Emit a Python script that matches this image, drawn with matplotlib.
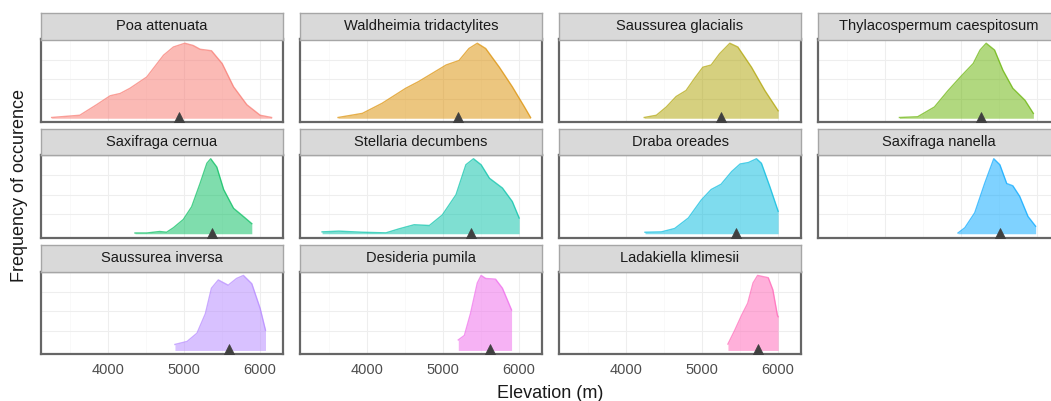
import matplotlib
matplotlib.use("Agg")
import matplotlib.pyplot as plt

plt.rcParams['font.family'] = ['Liberation Sans', 'DejaVu Sans']

species = ["Poa attenuata", "Waldheimia tridactylites", "Saussurea glacialis",
           "Thylacospermum caespitosum", "Saxifraga cernua", "Stellaria decumbens",
           "Draba oreades", "Saxifraga nanella", "Saussurea inversa",
           "Desideria pumila", "Ladakiella klimesii"]

colors = ["#F8766D", "#DB8E00", "#AEA200", "#64B200", "#00BD5C", "#00C1A7",
          "#00BADE", "#00A6FF", "#B385FF", "#EF67EB", "#FF63B6"]

# elevation (m) and relative density (scaled to peak = 1)
poa_x = [3260, 3630, 3850, 4030, 4160, 4290, 4510, 4730, 4860, 5010, 5120, 5210, 5360, 5500, 5650, 5825, 6000, 6150]
poa_y = [0.01, 0.04, 0.18, 0.30, 0.33, 0.40, 0.55, 0.84, 0.95, 1.00, 0.97, 0.92, 0.90, 0.73, 0.42, 0.18, 0.04, 0.01]
wal_x = [3620, 3940, 4200, 4510, 4680, 4860, 5040, 5210, 5340, 5450, 5560, 5740, 5910, 6070, 6150]
wal_y = [0.01, 0.065, 0.20, 0.40, 0.49, 0.60, 0.71, 0.77, 0.93, 1.00, 0.93, 0.68, 0.42, 0.15, 0.01]
sgl_x = [4240, 4400, 4530, 4660, 4790, 4900, 5010, 5120, 5230, 5365, 5470, 5650, 5825, 6000]
sgl_y = [0.01, 0.04, 0.15, 0.29, 0.37, 0.53, 0.68, 0.71, 0.86, 1.00, 0.95, 0.68, 0.37, 0.10]
thy_x = [4190, 4430, 4650, 4830, 5000, 5160, 5250, 5330, 5440, 5550, 5680, 5840, 5950]
thy_y = [0.01, 0.02, 0.15, 0.37, 0.56, 0.73, 0.91, 1.00, 0.91, 0.64, 0.40, 0.24, 0.065]
sce_x = [4355, 4510, 4680, 4770, 4860, 4990, 5100, 5210, 5300, 5350, 5430, 5520, 5650, 5780, 5890]
sce_y = [0.01, 0.01, 0.03, 0.02, 0.08, 0.19, 0.36, 0.67, 0.94, 1.00, 0.89, 0.59, 0.34, 0.23, 0.135]
ste_x = [3410, 3630, 3940, 4250, 4420, 4620, 4820, 4990, 5170, 5300, 5400, 5500, 5610, 5780, 5910, 6000]
ste_y = [0.025, 0.035, 0.02, 0.012, 0.065, 0.12, 0.11, 0.25, 0.52, 0.92, 1.00, 0.92, 0.74, 0.61, 0.43, 0.21]
dra_x = [4250, 4465, 4640, 4820, 4990, 5120, 5250, 5390, 5500, 5610, 5715, 5780, 5890, 6000]
dra_y = [0.02, 0.025, 0.07, 0.21, 0.45, 0.59, 0.66, 0.83, 0.93, 0.95, 1.00, 0.94, 0.63, 0.30]
sna_x = [4960, 5050, 5180, 5310, 5430, 5510, 5600, 5680, 5770, 5880, 5980]
sna_y = [0.01, 0.08, 0.28, 0.67, 1.00, 0.92, 0.67, 0.64, 0.50, 0.23, 0.10]
sin_x = [4880, 5040, 5170, 5280, 5360, 5450, 5580, 5690, 5780, 5890, 6000, 6070]
sin_y = [0.08, 0.12, 0.23, 0.49, 0.83, 0.94, 0.87, 0.96, 1.00, 0.89, 0.56, 0.27]
des_x = [5200, 5280, 5360, 5450, 5500, 5560, 5690, 5780, 5900]
des_y = [0.14, 0.20, 0.49, 0.90, 1.00, 0.96, 0.95, 0.83, 0.54]
lad_x = [5340, 5430, 5520, 5600, 5670, 5730, 5870, 5930, 5990, 6000]
lad_y = [0.085, 0.27, 0.47, 0.63, 0.90, 1.00, 0.97, 0.81, 0.47, 0.45]

xs = [poa_x, wal_x, sgl_x, thy_x, sce_x, ste_x, dra_x, sna_x, sin_x, des_x, lad_x]
ys = [poa_y, wal_y, sgl_y, thy_y, sce_y, ste_y, dra_y, sna_y, sin_y, des_y, lad_y]

# median elevation markers
medians = [4930, 5190, 5255, 5265, 5373, 5364, 5452, 5509, 5596, 5614, 5737]

x_ticks = [4000, 5000, 6000]
x_tick_labels = ["4000", "5000", "6000"]

W, H = 1051, 401
fig = plt.figure(figsize=(W / 100, H / 100), dpi=100)

col_left = [41, 300, 559, 818]
panel_w = 242
panel_top = [39.5, 155.0, 271.7]
panel_h = 82.5
strip_h = 26.5

for i, name in enumerate(species):
    r, c = divmod(i, 4)
    left = col_left[c] / W
    bottom = 1 - (panel_top[r] + panel_h) / H
    ax = fig.add_axes([left, bottom, panel_w / W, panel_h / H])
    ax.set_xlim(3120, 6300)
    ax.set_ylim(-0.05, 1.05)
    ax.set_facecolor("white")
    ax.set_xticks(x_ticks)
    ax.set_xticks([3500, 4500, 5500], minor=True)
    ax.set_yticks([0.26, 0.52, 0.78])
    ax.grid(True, which="major", color="#EEEEEE", lw=0.8)
    ax.grid(True, which="minor", axis="x", color="#F7F7F7", lw=0.5)
    ax.set_axisbelow(True)
    ax.tick_params(which="both", length=0, left=False, labelleft=False)
    if r == 2:
        ax.set_xticklabels(x_tick_labels, fontsize=10.5, color="#4D4D4D")
        ax.tick_params(axis="x", pad=6)
    else:
        ax.tick_params(axis="x", labelbottom=False)
    for sp in ax.spines.values():
        sp.set_color("#666666")
        sp.set_linewidth(1.6)
    ax.fill_between(xs[i], 0, ys[i], color=colors[i], alpha=0.5, lw=0)
    ax.plot(xs[i], ys[i], color=colors[i], lw=1.0, alpha=0.7)
    ax.plot([medians[i]], [0.0], marker="^", ms=9, color="#404040",
            mec="#404040", mew=0.5, clip_on=True, zorder=5)

    sax = fig.add_axes([left, 1 - panel_top[r] / H, panel_w / W, strip_h / H])
    sax.set_facecolor("#D9D9D9")
    sax.set_xticks([])
    sax.set_yticks([])
    for sp in sax.spines.values():
        sp.set_color("#A6A6A6")
        sp.set_linewidth(1.0)
    sax.text(0.5, 0.5, name, ha="center", va="center", fontsize=10.5,
             color="#1A1A1A", transform=sax.transAxes)

fig.text(550.5 / W, 1 - 393 / H, "Elevation (m)", ha="center", va="center",
         fontsize=13, color="#1A1A1A")
fig.text(20 / W, 1 - 185 / H, "Frequency of occurence", ha="center", va="center",
         rotation=90, fontsize=13, color="#1A1A1A")

fig.savefig("out.png", dpi=100)
